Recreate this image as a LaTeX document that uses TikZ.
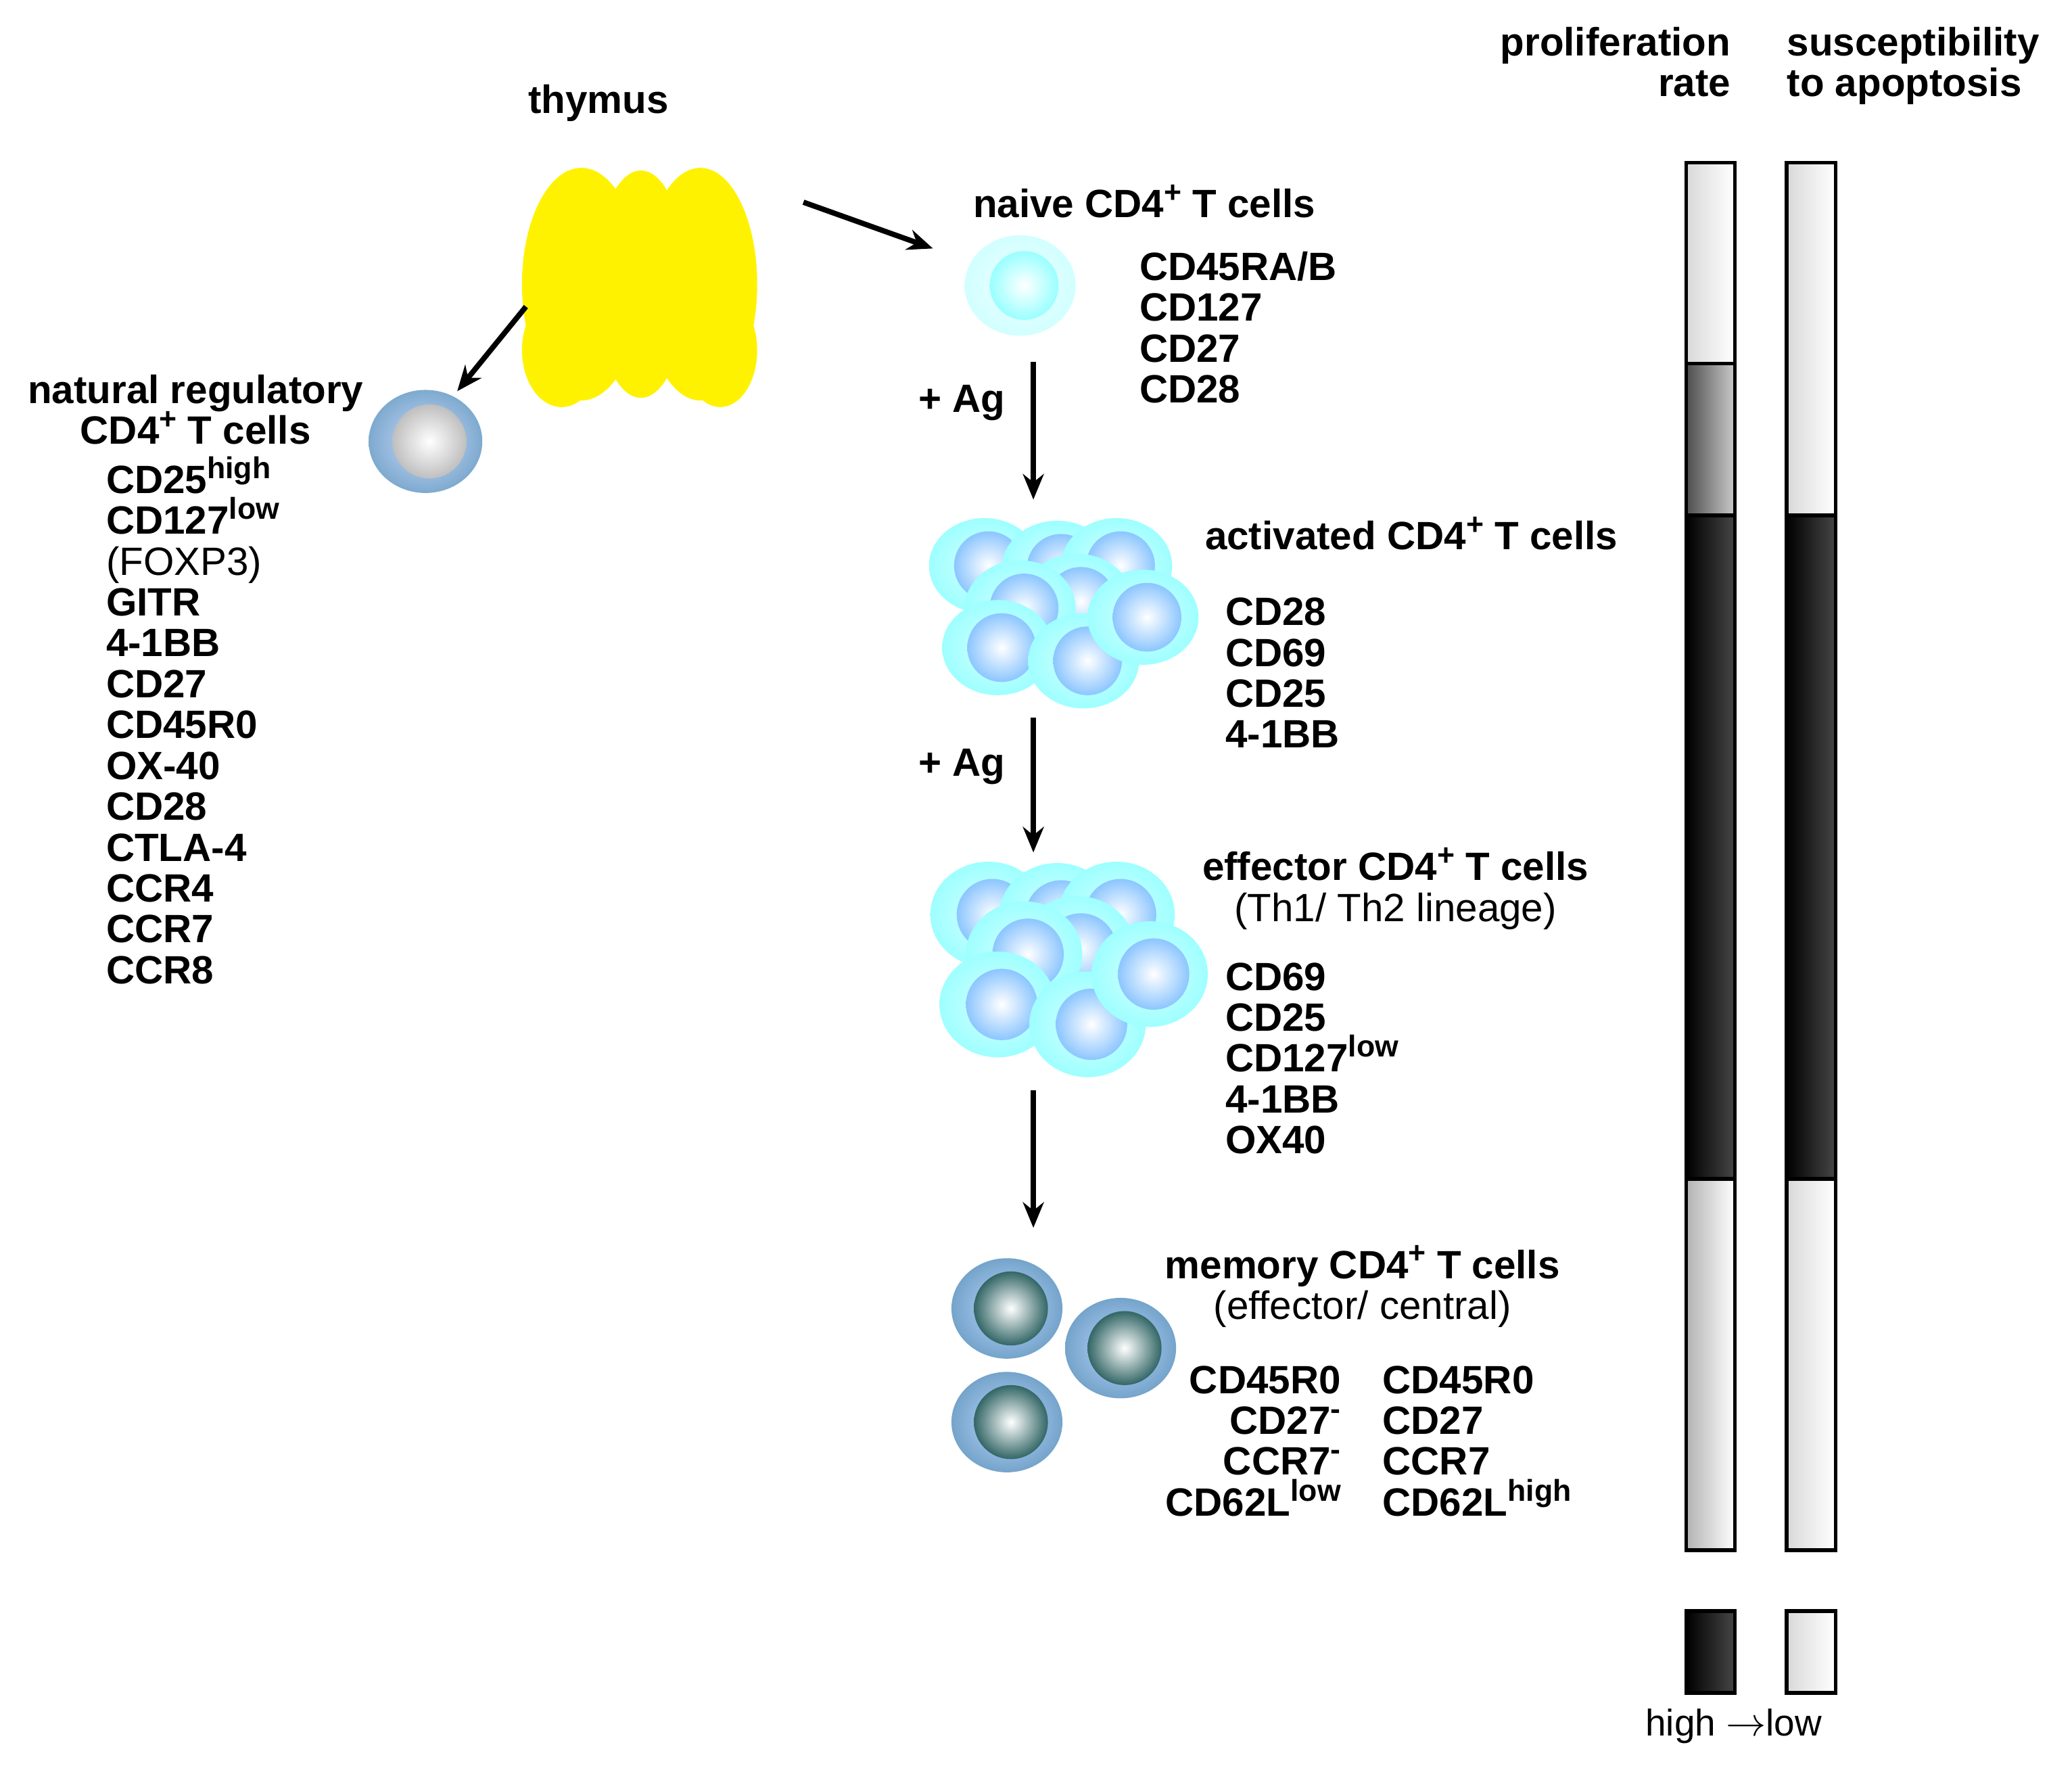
\documentclass[tikz,border=0pt]{standalone}
\usepackage{fontspec}
\setmainfont{Liberation Sans}
\usetikzlibrary{arrows.meta}
\newcommand{\sps}[1]{\raisebox{0.38em}{\smash{\fontsize{13}{13}\selectfont #1}}}
\begin{document}
\begin{tikzpicture}[x=0.02cm,y=-0.02cm,
  every node/.style={font=\fontsize{17}{17.6}\selectfont\bfseries, inner sep=0pt},
  lab/.style={align=left, anchor=north west},
  arr/.style={line width=2.3pt, -{Stealth[length=11pt,width=9pt]}},
  bar/.style={draw=black, line width=1.6pt},
  dark/.style={left color=black, right color=gray!55!black},
  light/.style={left color=gray!30, right color=white},
  mid/.style={left color=gray!60!black, right color=gray!40}]
\useasboundingbox (0,0) rectangle (1568,1339);
\newcommand{\mycell}[8]{% x y outer-rx outer-ry inner-r outer-edge outer-inner inner-edge
  \shade[inner color=#7, outer color=#6] (#1,#2) ellipse [x radius=#3, y radius=#4];
  \shade[inner color=white, outer color=#8] (#1+3,#2) circle [radius=#5];}
% thymus
\begin{scope}[fill=yellow]
\fill (440,215) ellipse [x radius=45, y radius=88];
\fill (530,215) ellipse [x radius=43, y radius=88];
\fill (485,215) ellipse [x radius=35, y radius=86];
\fill (425,265) ellipse [x radius=30, y radius=43];
\fill (545,265) ellipse [x radius=28, y radius=43];
\end{scope}
\node (thy) at (453,78) {thymus};
% cells
\mycell{772}{216}{42}{38}{26}{cyan!18}{cyan!6}{cyan!40!white}
\mycell{322}{334}{43}{39}{28}{cyan!55!blue!45!gray!70!white}{cyan!30!blue!20!white}{gray!50}
\foreach \x/\y in {745/428,800/430,845/428,815/455,772/460,755/490,820/500,865/467}
  {\mycell{\x}{\y}{42}{36}{26}{cyan!38}{cyan!15}{cyan!50!blue!45!white}}
\foreach \x/\y in {748/692,800/693,845/692,815/718,775/722,755/760,823/775,870/737}
  {\mycell{\x}{\y}{44}{40}{27}{cyan!38}{cyan!15}{cyan!50!blue!45!white}}
\foreach \x/\y in {762/990,848/1020,762/1076}
  {\mycell{\x}{\y}{42}{38}{28}{cyan!55!blue!45!gray!75!white}{cyan!35!blue!25!white}{teal!50!gray!80!black}}
% arrows
\coordinate (a1) at (608,153); \coordinate (b1) at (706,188);
\coordinate (a2) at (398,232); \coordinate (b2) at (346,296);
\coordinate (a3) at (782,274); \coordinate (b3) at (782,378);
\coordinate (a4) at (782,543); \coordinate (b4) at (782,645);
\coordinate (a5) at (782,825); \coordinate (b5) at (782,929);
\draw[arr] (a1) -- (b1);
\draw[arr] (a2) -- (b2);
\draw[arr] (a3) -- (b3);
\draw[arr] (a4) -- (b4);
\draw[arr] (a5) -- (b5);
\node (ag1) at (728,305) {+ Ag};
\node (ag2) at (728,580) {+ Ag};
% labels
\node (naive) at (866,154) {naive CD4\sps{+} T cells};
\node[lab] (naivem) at (862,190) {CD45RA/B\\CD127\\CD27\\CD28};
\node[align=center] (treg) at (148,310) {natural regulatory\\CD4\sps{+} T cells};
\node[lab] (tregm) at (80,352) {CD25\sps{high}\\CD127\sps{low}\\{\mdseries (FOXP3)}\\GITR\\4-1BB\\CD27\\CD45R0\\OX-40\\CD28\\CTLA-4\\CCR4\\CCR7\\CCR8};
\node (act) at (1068,405) {activated CD4\sps{+} T cells};
\node[lab] (actm) at (927,452) {CD28\\CD69\\CD25\\4-1BB};
\node[align=center] (eff) at (1056,674) {effector CD4\sps{+} T cells\\{\mdseries (Th1/ Th2 lineage)}};
\node[lab] (effm) at (927,728) {CD69\\CD25\\CD127\sps{low}\\4-1BB\\OX40};
\node[align=center] (mem) at (1031,975) {memory CD4\sps{+} T cells\\{\mdseries (effector/ central)}};
\node[align=right, anchor=north east] (memL) at (1015,1033) {CD45R0\\CD27\sps{-}\\CCR7\sps{-}\\CD62L\sps{low}};
\node[lab] (memR) at (1046,1033) {CD45R0\\CD27\\CCR7\\CD62L\sps{high}};
\node[align=right, anchor=north east] (prol) at (1310,20) {proliferation\\rate};
\node[align=left, anchor=north west] (apo) at (1352,20) {susceptibility\\to apoptosis};
% bars
\fill[light] (1276,123) rectangle (1313,275);
\fill[mid] (1276,275) rectangle (1313,390);
\fill[dark] (1276,390) rectangle (1313,892);
\fill[light, left color=gray!60] (1276,892) rectangle (1313,1173);
\draw[bar] (1276,123) rectangle (1313,1173);
\draw[bar] (1276,275) -- (1313,275) (1276,390) -- (1313,390) (1276,892) -- (1313,892);
\fill[light] (1352,123) rectangle (1389,390);
\fill[dark] (1352,390) rectangle (1389,892);
\fill[light] (1352,892) rectangle (1389,1173);
\draw[bar] (1352,123) rectangle (1389,1173);
\draw[bar] (1352,390) -- (1389,390) (1352,892) -- (1389,892);
\fill[dark] (1276,1219) rectangle (1313,1281);
\draw[bar] (1276,1219) rectangle (1313,1281);
\fill[light] (1352,1219) rectangle (1389,1281);
\draw[bar] (1352,1219) rectangle (1389,1281);
\node[font=\fontsize{16}{17}\selectfont] (hl) at (1312,1306) {high $\rightarrow$low};
\end{tikzpicture}
\end{document}
